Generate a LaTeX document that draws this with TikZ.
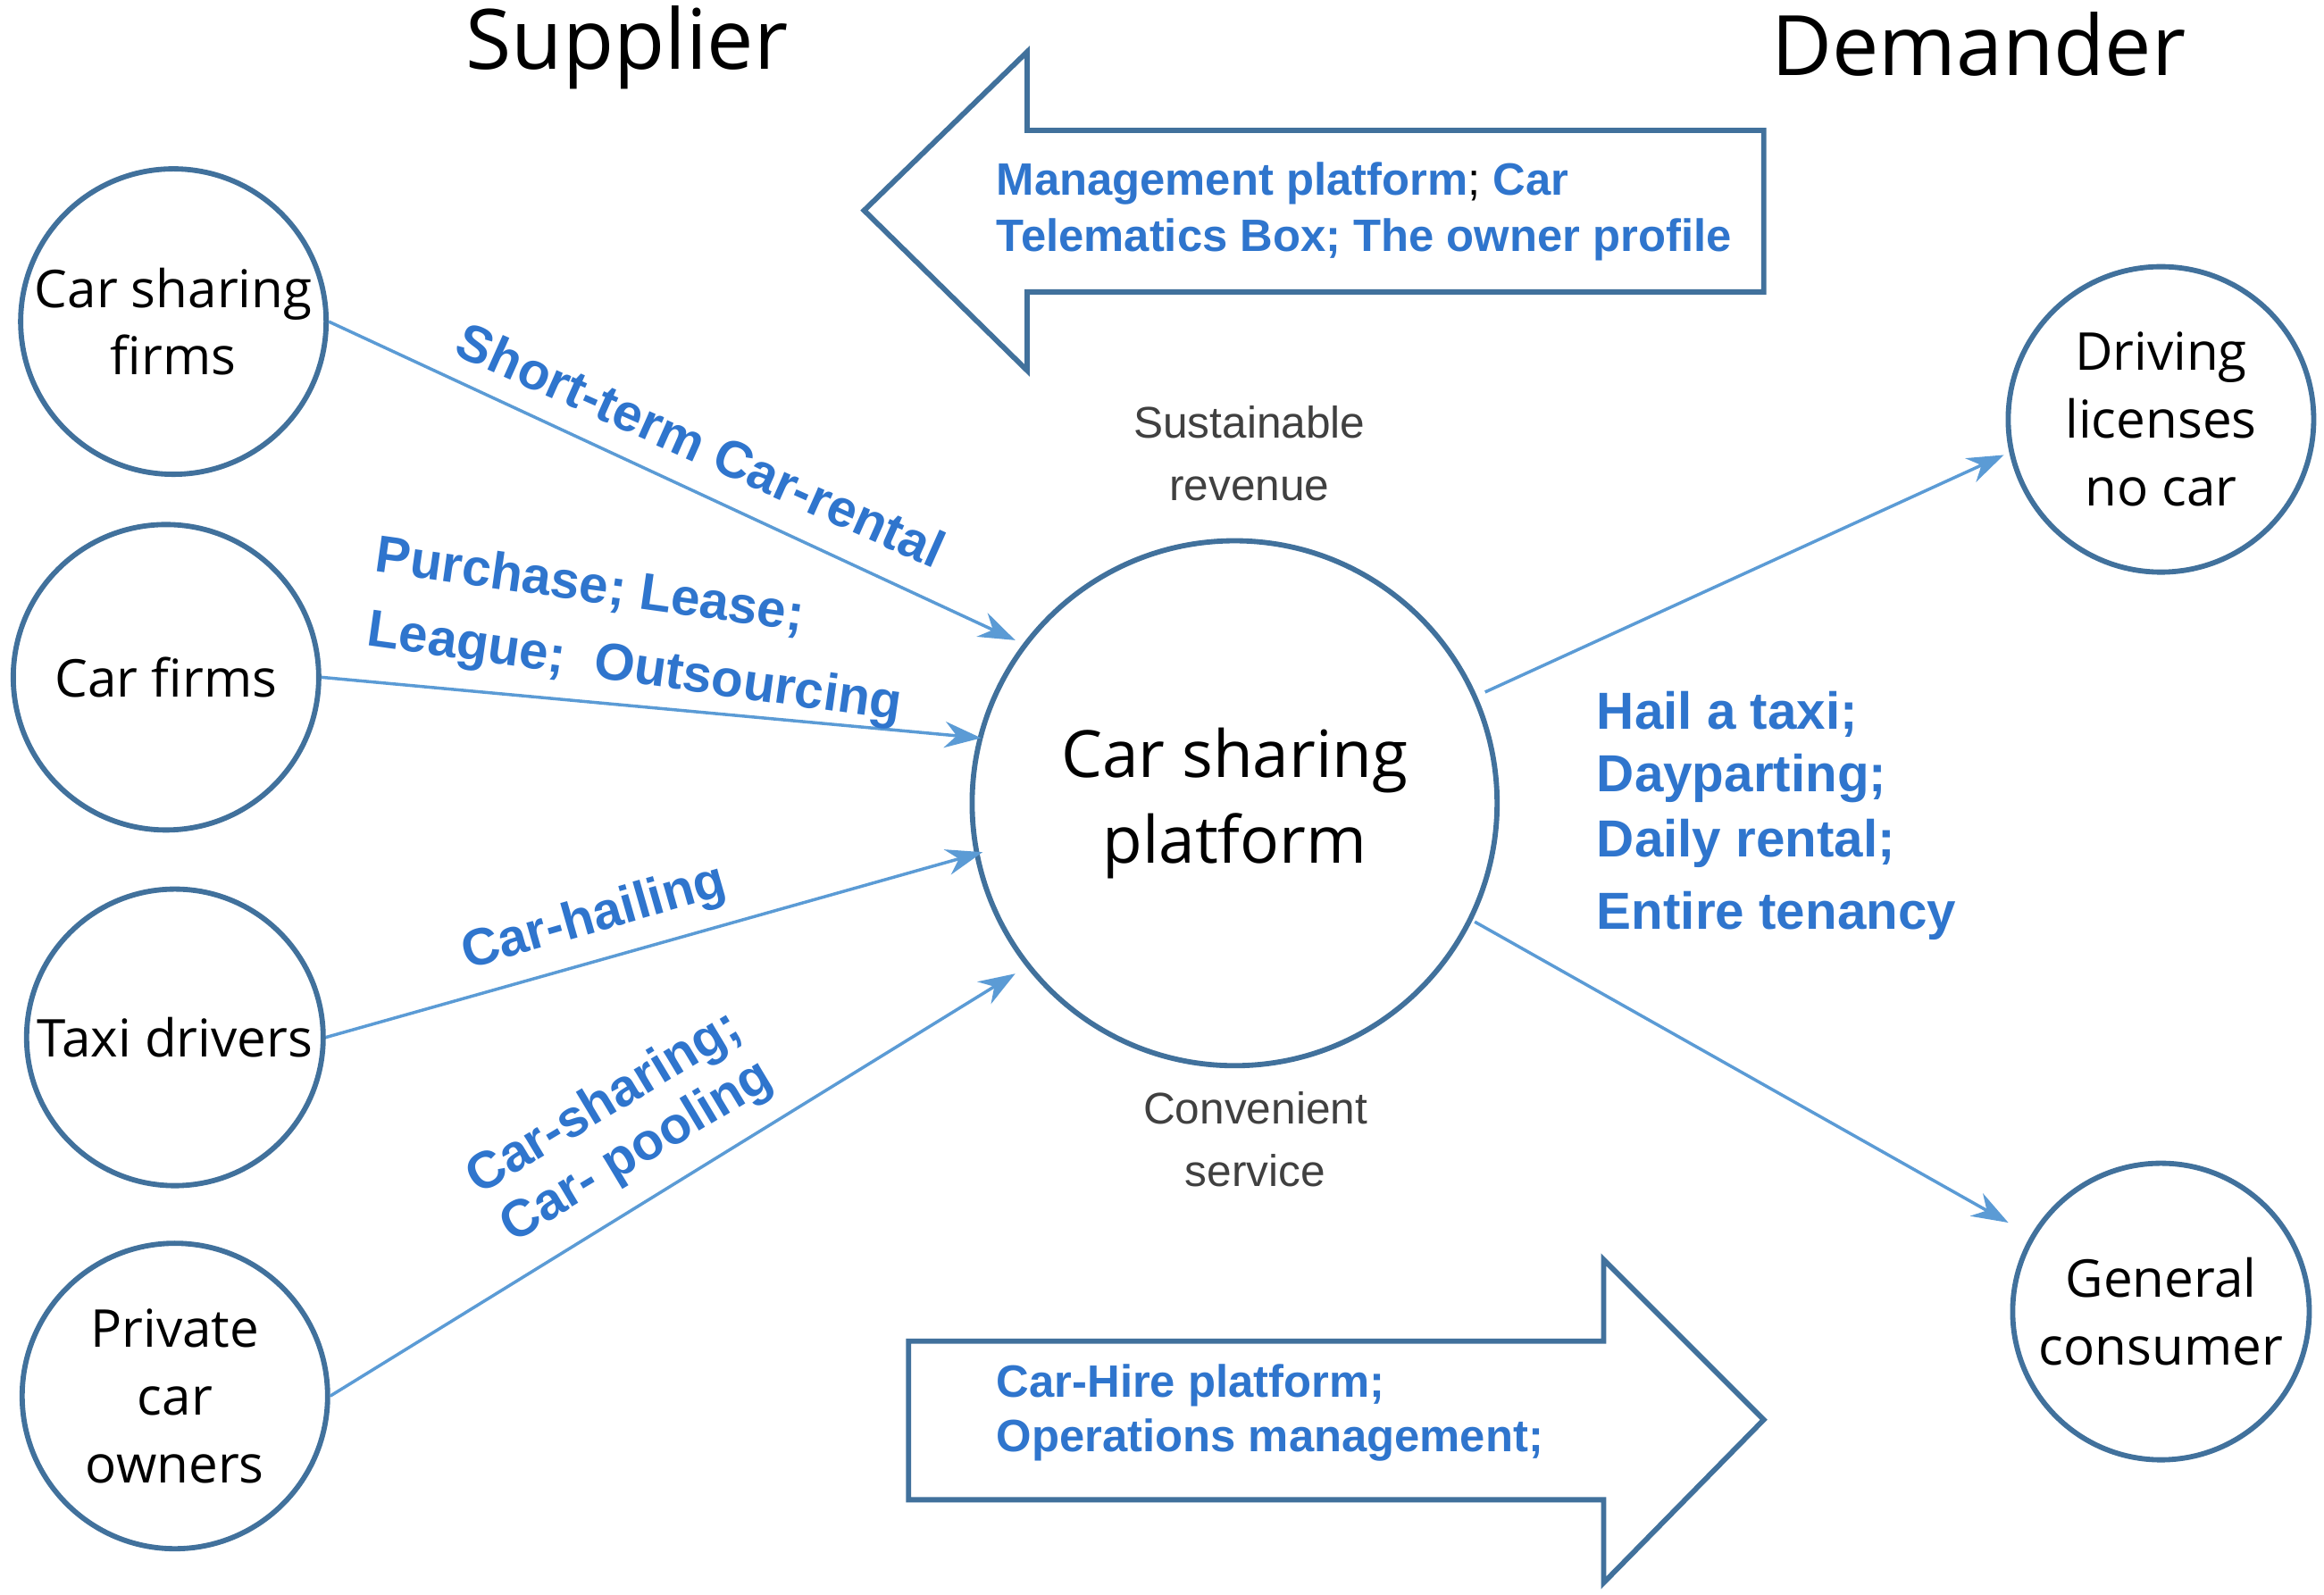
\documentclass[tikz,border=0pt]{standalone}
\usepackage{fontspec}
\setmainfont{Open Sans}
\newfontfamily\arial{Liberation Sans}
\usetikzlibrary{arrows.meta}
\definecolor{cb}{RGB}{65,113,156}
\definecolor{tb}{RGB}{47,117,205}
\definecolor{lb}{RGB}{91,155,213}
\definecolor{gr}{RGB}{64,64,64}
\begin{document}
\begin{tikzpicture}[x=0.01cm,y=-0.01cm,
  circ/.style={draw=cb,line width=1pt,circle,inner sep=0pt,align=center,font=\fontsize{10}{13}\selectfont},
  con/.style={draw=lb,line width=0.6pt,-{Stealth[length=7pt,width=5pt]}},
  bl/.style={text=tb,font=\arial\bfseries\fontsize{8.7}{12}\selectfont},
  bb/.style={text=tb,font=\arial\bfseries\fontsize{10}{13}\selectfont},
  gt/.style={text=gr,font=\arial\fontsize{8.5}{12}\selectfont,align=center},
  big/.style={draw=cb,line width=1pt,fill=white}]
\useasboundingbox (0,0) rectangle (1568,1076);
\node[circ,minimum size=2.06cm] (a) at (117,217) {Car sharing\\firms};
\node[circ,minimum size=2.06cm] (b) at (112,457) {Car firms};
\node[circ,minimum size=2.0cm] (c) at (118,700) {Taxi drivers};
\node[circ,minimum size=2.06cm] (d) at (118,942) {Private\\car\\owners};
\node[circ,minimum size=2.06cm] (e) at (1458,283) {Driving\\licenses\\no car};
\node[circ,minimum size=2.0cm] (f) at (1458,885) {General\\consumer};
\node[circ,minimum size=3.54cm,font=\fontsize{12.5}{16.5}\selectfont] (p) at (833,542) {Car sharing\\platform};
\coordinate (pa) at (685,432); \coordinate (pb) at (662,498);
\coordinate (pc) at (663,575); \coordinate (pd) at (685,657);
\coordinate (pe) at (1002,467); \coordinate (pf) at (995,622);
\coordinate (ea) at (1352,307); \coordinate (fa) at (1355,825);
\draw[con] (a.east) -- (pa);
\draw[con] (b.east) -- (pb);
\draw[con] (c.east) -- (pc);
\draw[con] (d.east) -- (pd);
\draw[con] (pe) -- (ea);
\draw[con] (pf) -- (fa);
\draw[big] (583,142) -- (693,35) -- (693,88) -- (1190,88) -- (1190,197) -- (693,197) -- (693,250) -- cycle;
\draw[big] (613,905) -- (1082,905) -- (1082,850) -- (1190,958) -- (1082,1068) -- (1082,1012) -- (613,1012) -- cycle;
\node[font=\fontsize{16}{20}\selectfont] (s) at (423,32) {Supplier};
\node[font=\fontsize{16}{20}\selectfont] (dm) at (1335,30) {Demander};
\node[bl,anchor=west] (m1) at (660,124) {Management platform\textcolor{black}{\mdseries;} Car};
\node[bl,anchor=west] (m2) at (660,162) {Telematics Box; The owner profile};
\node[bl,anchor=west] (h1) at (660,935) {Car-Hire platform;};
\node[bl,anchor=west] (h2) at (660,972) {Operations management;};
\node[gt] (sr) at (843,306) {Sustainable\\revenue};
\node[gt] (cs) at (847,769) {Convenient\\service};
\node[bb,rotate=-24] (l1) at (473,300) {Short-term Car-rental};
\node[bb,rotate=-8] (l2) at (398,396) {Purchase; Lease;};
\node[bb,rotate=-8] (l3) at (428,452) {League;\ \ Outsourcing};
\node[bb,rotate=16] (l4) at (401,620) {Car-hailing};
\node[bb,rotate=31] (l5) at (408,745) {Car-sharing;};
\node[bb,rotate=31] (l6) at (430,778) {Car- pooling};
\node[bb,anchor=west] (r1) at (1065,482) {Hail a taxi;};
\node[bb,anchor=west] (r2) at (1065,525) {Dayparting;};
\node[bb,anchor=west] (r3) at (1065,569) {Daily rental;};
\node[bb,anchor=west] (r4) at (1065,618) {Entire tenancy};
\end{tikzpicture}
\end{document}
